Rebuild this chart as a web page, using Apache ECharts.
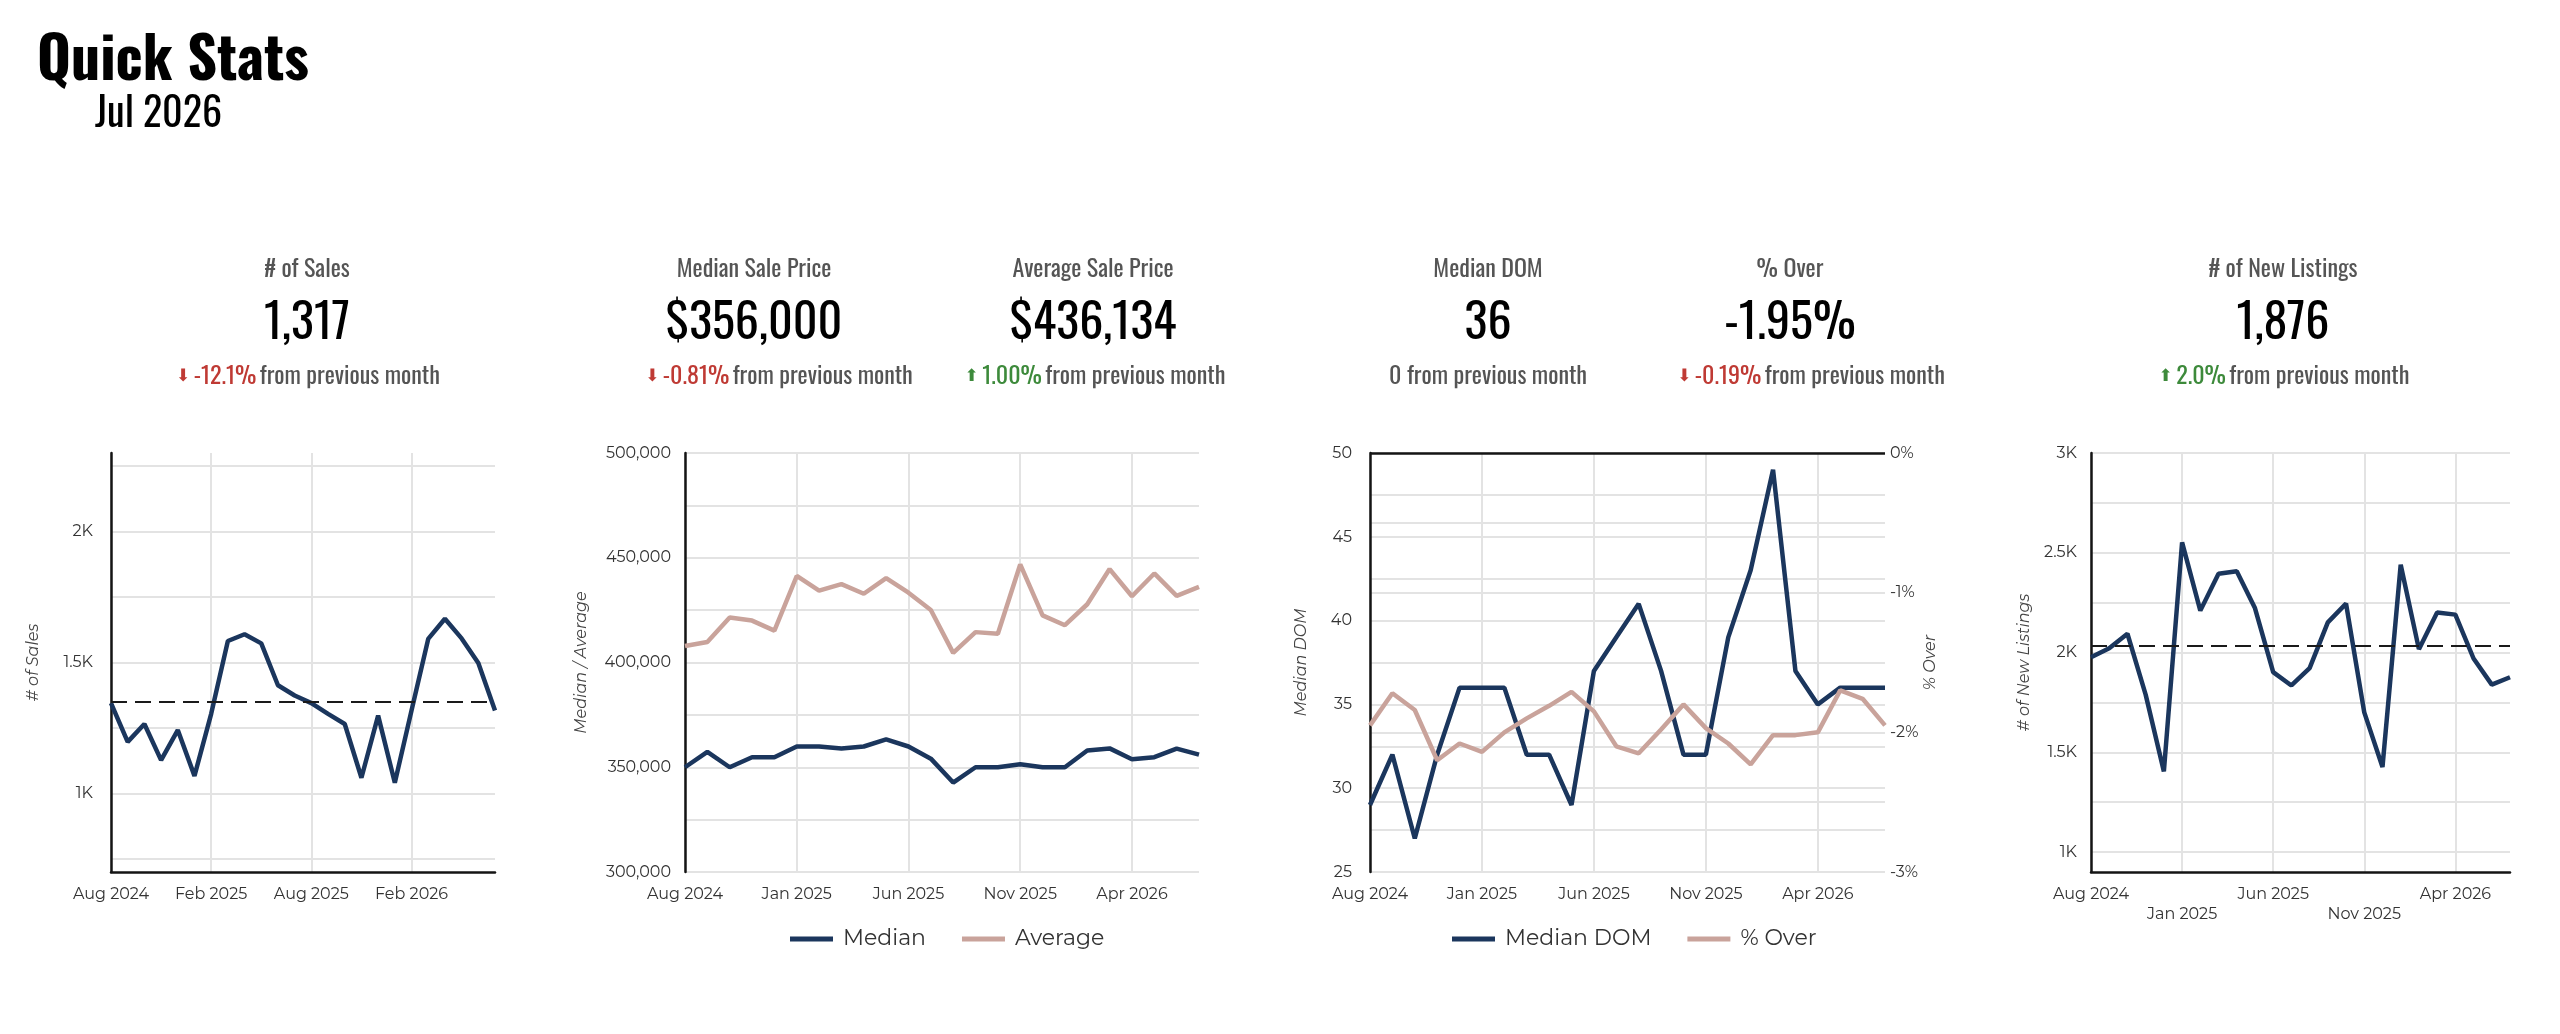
<!DOCTYPE html>
<html>
<head>
<meta charset="utf-8">
<script src="https://cdn.jsdelivr.net/npm/echarts@6/dist/echarts.min.js"></script>
<style>
html,body{margin:0;padding:0;background:#ffffff;}
#c{width:2560px;height:1034px;}
</style>
</head>
<body>
<div id="c"></div>
<script>
// ---------- data ----------
const months = ['Aug 2024','Sep 2024','Oct 2024','Nov 2024','Dec 2024','Jan 2025','Feb 2025','Mar 2025','Apr 2025','May 2025','Jun 2025','Jul 2025','Aug 2025','Sep 2025','Oct 2025','Nov 2025','Dec 2025','Jan 2026','Feb 2026','Mar 2026','Apr 2026','May 2026','Jun 2026','Jul 2026'];
const sales = [1345,1197,1265,1127,1242,1067,1304,1582,1608,1573,1413,1374,1345,1304,1265,1060,1297,1041,1317,1590,1667,1592,1498,1317];
const medianPrice = [350000,357300,350000,354800,354800,359900,359900,358900,359900,363300,359900,354100,342700,350000,350000,351400,350000,350000,358000,359000,353800,354800,358900,356000];
const averagePrice = [407900,409800,421500,420000,415200,441300,434300,437400,432800,440300,433300,425100,404600,414500,413700,446800,422500,417800,427800,444600,431600,442500,431800,436134];
const medianDom = [29,32,27,32,36,36,36,32,32,29,37,39,41,37,32,32,39,43,49,37,35,36,36,36];
const pctOver = [-1.95,-1.72,-1.84,-2.20,-2.08,-2.14,-2.00,-1.90,-1.81,-1.71,-1.85,-2.10,-2.15,-1.98,-1.80,-1.97,-2.08,-2.23,-2.02,-2.02,-2.00,-1.70,-1.76,-1.95];
const newListings = [1976,2021,2094,1789,1404,2552,2210,2395,2407,2223,1902,1835,1922,2151,2245,1700,1426,2440,2017,2201,2190,1970,1839,1876];

// tick values
const salesTicks = [750,1000,1250,1500,1750,2000,2250];
const salesLabelTicks = [1000,1500,2000];
const listingTicks = [1000,1250,1500,1750,2000,2250,2500,2750,3000];
const listingLabelTicks = [1000,1500,2000,2500,3000];

// headline stats
const statLabels = ['# of Sales','Median Sale Price','Average Sale Price','Median DOM','% Over','# of New Listings'];
const statValues = ['1,317','$356,000','$436,134','36','-1.95%','1,876'];
const statChanges = ['-12.1%','-0.81%','1.00%','0','-0.19%','2.0%'];
const statDirs = ['down','down','up','none','down','up'];
const titleText = 'Quick Stats';
const subtitleText = 'Jul 2026';

// ---------- layout / style ----------
const statX = [307,754,1093,1488,1790,2283];
const changeX = [308,779,1095,1488,1811,2284];
const HEAD = "'Oswald','Liberation Sans Narrow','Arial Narrow','DejaVu Sans Condensed','Roboto Condensed',sans-serif";
const AXF = "'Montserrat','DejaVu Sans',sans-serif";
const NAVY = '#1b365d';
const ROSE = '#c9a39b';
const RED = '#bf3a34';
const GREEN = '#3d8a3b';
const GRID = '#e3e3e3';
const AXIS_BLACK = '#141414';
const LW = 4.5;

const graphics = [];
graphics.push({type:'text', x:37, y:62, style:{text:titleText, fontFamily:HEAD, fontWeight:'bold', fontSize:58, fill:'#000', align:'left', verticalAlign:'middle'}});
graphics.push({type:'text', x:95, y:115, style:{text:subtitleText, fontFamily:HEAD, fontSize:40, fill:'#000', align:'left', verticalAlign:'middle'}});
statLabels.forEach((lab, i) => {
  graphics.push({type:'text', x:statX[i], y:270, style:{text:lab, fontFamily:HEAD, fontSize:24, fill:'#555555', align:'center', verticalAlign:'middle'}});
  graphics.push({type:'text', x:statX[i], y:324, style:{text:statValues[i], fontFamily:HEAD, fontSize:48, fill:'#000000', align:'center', verticalAlign:'middle'}});
  let txt;
  if (statDirs[i] === 'down') txt = '{ad|⬇} {neg|' + statChanges[i] + '} {g|from previous month}';
  else if (statDirs[i] === 'up') txt = '{au|⬆} {pos|' + statChanges[i] + '} {g|from previous month}';
  else txt = '{g|' + statChanges[i] + ' from previous month}';
  graphics.push({type:'text', x:changeX[i], y:377, style:{
    text:txt, align:'center', verticalAlign:'middle',
    rich:{
      ad:{fontFamily:"'DejaVu Sans',sans-serif", fontSize:17, fill:RED},
      au:{fontFamily:"'DejaVu Sans',sans-serif", fontSize:17, fill:GREEN},
      neg:{fontFamily:HEAD, fontSize:24, fill:RED},
      pos:{fontFamily:HEAD, fontSize:24, fill:GREEN},
      g:{fontFamily:HEAD, fontSize:24, fill:'#555555'}
    }}});
});

const splitLineStyle = {show:true, lineStyle:{color:GRID, width:2}};
const axisLabelStyle = {color:'#333333', fontFamily:AXF, fontSize:16};
const nameStyle = {fontStyle:'italic', fontSize:16, color:'#444444', fontFamily:AXF};
const kFmt = v => (v/1000) + 'K';

function xAxisFor(gi, interval, showLine, formatter) {
  return {
    type:'category', gridIndex:gi, data:months, boundaryGap:false,
    axisTick:{show:false},
    axisLine:{show:showLine, onZero:false, lineStyle:{color:AXIS_BLACK, width:2.5}},
    axisLabel:{interval:interval, margin:12, fontSize:16, lineHeight:20, formatter:formatter, color:'#333333', fontFamily:AXF},
    splitLine:{show:true, interval:interval, lineStyle:{color:GRID, width:2}}
  };
}

const option = {
  animation:false,
  backgroundColor:'#ffffff',
  graphic:graphics,
  legend:[
    {data:['Median','Average'], left:785, top:923, icon:'rect', itemWidth:43, itemHeight:5, itemGap:36,
     textStyle:{fontSize:22, color:'#333333', fontFamily:AXF, padding:[0,0,0,5]}},
    {data:['Median DOM','% Over'], left:1447, top:923, icon:'rect', itemWidth:43, itemHeight:5, itemGap:36,
     textStyle:{fontSize:22, color:'#333333', fontFamily:AXF, padding:[0,0,0,5]}}
  ],
  grid:[
    {left:111, right:2065, top:453, bottom:162},
    {left:685, right:1361, top:453, bottom:162},
    {left:1370, right:675, top:453, bottom:162},
    {left:2091, right:50, top:453, bottom:162}
  ],
  xAxis:[
    xAxisFor(0, 5, true),
    xAxisFor(1, 4, false),
    xAxisFor(2, 4, false),
    xAxisFor(3, 4, true, (v, i) => (i % 10 === 5 ? '\n' + v : v))
  ],
  yAxis:[
    {type:'value', gridIndex:0, min:700, max:2300,
     name:'# of Sales', nameLocation:'middle', nameGap:70, nameTextStyle:nameStyle,
     axisLine:{show:true, lineStyle:{color:AXIS_BLACK, width:2.5}},
     axisTick:{show:false, customValues:salesTicks},
     axisLabel:Object.assign({customValues:salesLabelTicks, formatter:kFmt, margin:18}, axisLabelStyle),
     splitLine:splitLineStyle},
    {type:'value', gridIndex:1, min:300000, max:500000, interval:25000,
     name:'Median / Average', nameLocation:'middle', nameGap:96, nameTextStyle:nameStyle,
     axisLine:{show:true, lineStyle:{color:AXIS_BLACK, width:2.5}},
     axisTick:{show:false},
     axisLabel:Object.assign({margin:14, formatter:v => (v % 50000 === 0 ? v.toLocaleString('en-US') : '')}, axisLabelStyle),
     splitLine:splitLineStyle},
    {type:'value', gridIndex:2, min:25, max:50, interval:2.5, position:'left',
     name:'Median DOM', nameLocation:'middle', nameGap:61, nameTextStyle:nameStyle,
     axisLine:{show:true, lineStyle:{color:AXIS_BLACK, width:2.5}},
     axisTick:{show:false},
     axisLabel:Object.assign({margin:18, formatter:v => (v % 5 === 0 ? String(v) : '')}, axisLabelStyle),
     splitLine:splitLineStyle},
    {type:'value', gridIndex:2, min:-3, max:0, interval:0.5, position:'right',
     name:'% Over', nameLocation:'middle', nameGap:37, nameTextStyle:nameStyle,
     axisLine:{show:false},
     axisTick:{show:false},
     axisLabel:Object.assign({margin:5, formatter:v => (Math.abs(v % 1) < 1e-9 ? v + '%' : '')}, axisLabelStyle),
     splitLine:splitLineStyle},
    {type:'value', gridIndex:3, min:900, max:3000,
     name:'# of New Listings', nameLocation:'middle', nameGap:59, nameTextStyle:nameStyle,
     axisLine:{show:true, lineStyle:{color:AXIS_BLACK, width:2.5}},
     axisTick:{show:false, customValues:listingTicks},
     axisLabel:Object.assign({customValues:listingLabelTicks, formatter:kFmt, margin:14}, axisLabelStyle),
     splitLine:splitLineStyle}
  ],
  series:[
    {name:'# of Sales', type:'line', xAxisIndex:0, yAxisIndex:0, data:sales, symbol:'none',
     lineStyle:{color:NAVY, width:LW}, itemStyle:{color:NAVY},
     markLine:{silent:true, symbol:['none','none'], label:{show:false},
       lineStyle:{color:'#1a1a1a', width:2, type:[16,8]}, data:[{type:'average'}]}},
    {name:'Median', type:'line', xAxisIndex:1, yAxisIndex:1, data:medianPrice, symbol:'none',
     lineStyle:{color:NAVY, width:LW}, itemStyle:{color:NAVY}},
    {name:'Average', type:'line', xAxisIndex:1, yAxisIndex:1, data:averagePrice, symbol:'none',
     lineStyle:{color:ROSE, width:LW}, itemStyle:{color:ROSE}},
    {name:'Median DOM', type:'line', xAxisIndex:2, yAxisIndex:2, data:medianDom, symbol:'none',
     lineStyle:{color:NAVY, width:LW}, itemStyle:{color:NAVY}},
    {name:'% Over', type:'line', xAxisIndex:2, yAxisIndex:3, data:pctOver, symbol:'none',
     lineStyle:{color:ROSE, width:LW}, itemStyle:{color:ROSE},
     markLine:{silent:true, symbol:['none','none'], label:{show:false},
       lineStyle:{color:AXIS_BLACK, width:2.5, type:'solid'}, data:[{yAxis:0}]}},
    {name:'# of New Listings', type:'line', xAxisIndex:3, yAxisIndex:4, data:newListings, symbol:'none',
     lineStyle:{color:NAVY, width:LW}, itemStyle:{color:NAVY},
     markLine:{silent:true, symbol:['none','none'], label:{show:false},
       lineStyle:{color:'#1a1a1a', width:2, type:[16,8]}, data:[{type:'average'}]}}
  ]
};

const chart = echarts.init(document.getElementById('c'));
chart.setOption(option);
</script>
</body>
</html>
